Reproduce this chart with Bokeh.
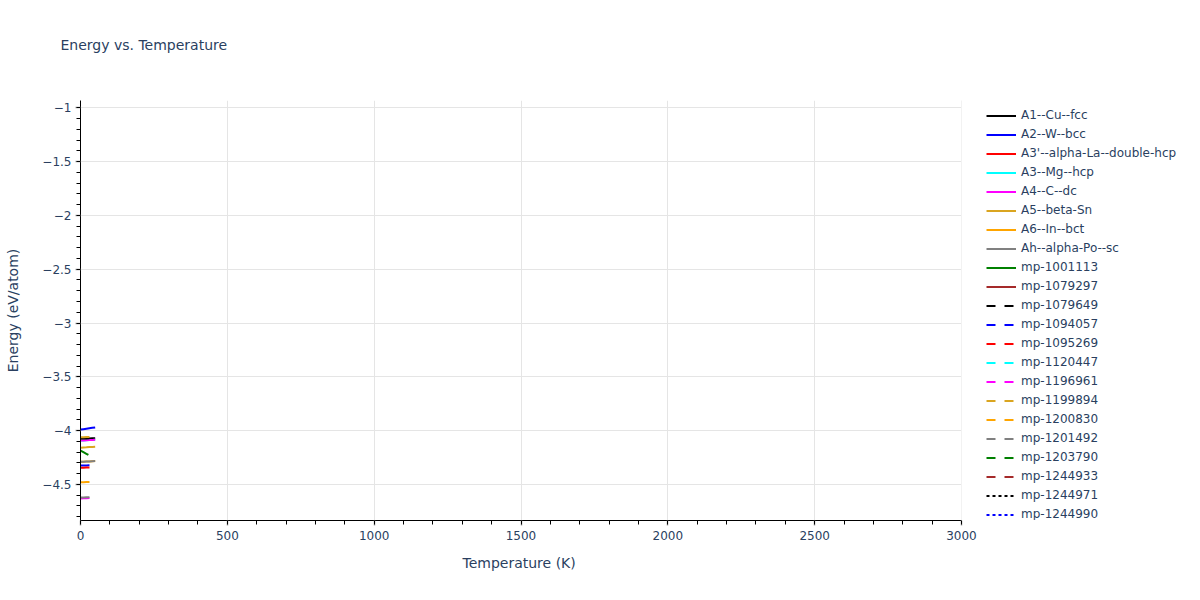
from bokeh.plotting import figure
from bokeh.models import (Legend, LegendItem, SingleIntervalTicker, BoxAnnotation,
                          CustomJSTickFormatter, Range1d, Title)
from bokeh.embed import file_html
from bokeh.resources import INLINE

FONT = "DejaVu Sans"
TEXT = "#2a3f5f"

# ---- data ----
temperature_k = [0, 10, 20, 30, 40, 50]
temperature_single = [0]

e_a1_cu_fcc = [-4.075, -4.074, -4.073, -4.072, -4.071, -4.070]
e_a2_w_bcc = [-3.990, -3.986, -3.982, -3.978, -3.974, -3.970]
e_a3p_la_dhcp = [-4.343]
e_a3_mg_hcp = [-4.092, -4.091, -4.089, -4.088, -4.086, -4.085]
e_a4_c_dc = [-4.092, -4.091, -4.089, -4.088, -4.086, -4.085]
e_a5_beta_sn = [-4.158, -4.156, -4.155, -4.153, -4.152, -4.150]
e_a6_in_bct = [-4.290, -4.289, -4.287, -4.286, -4.284, -4.283]
e_ah_po_sc = [-4.290, -4.289, -4.287, -4.286, -4.284, -4.283]
e_mp_1001113 = [-4.185]
e_mp_1079297 = [-4.073]
e_mp_1079649 = [-4.073, -4.072, -4.072, -4.071, -4.071, -4.070]
e_mp_1094057 = [-4.325, -4.324, -4.323, -4.322, -4.321, -4.320]
e_mp_1095269 = [-4.345, -4.344, -4.343, -4.342, -4.341, -4.340]
e_mp_1120447 = [-4.090]
e_mp_1196961 = [-4.630, -4.629, -4.628, -4.627, -4.626, -4.625]
e_mp_1199894 = [-4.062, -4.061, -4.059, -4.058, -4.056, -4.055]
e_mp_1200830 = [-4.480, -4.479, -4.478, -4.477, -4.476, -4.475]
e_mp_1201492 = [-4.622, -4.621, -4.620, -4.619, -4.618, -4.617]
e_mp_1203790 = [-4.185, -4.200, -4.215, -4.230, -4.245, -4.260]
e_mp_1244933 = [-4.620]
e_mp_1244971 = [-4.290]
e_mp_1244990 = [-4.325]

series_names = [
    "A1--Cu--fcc", "A2--W--bcc", "A3'--alpha-La--double-hcp", "A3--Mg--hcp",
    "A4--C--dc", "A5--beta-Sn", "A6--In--bct", "Ah--alpha-Po--sc",
    "mp-1001113", "mp-1079297", "mp-1079649", "mp-1094057", "mp-1095269",
    "mp-1120447", "mp-1196961", "mp-1199894", "mp-1200830", "mp-1201492",
    "mp-1203790", "mp-1244933", "mp-1244971", "mp-1244990",
]
series_values = [
    e_a1_cu_fcc, e_a2_w_bcc, e_a3p_la_dhcp, e_a3_mg_hcp, e_a4_c_dc,
    e_a5_beta_sn, e_a6_in_bct, e_ah_po_sc, e_mp_1001113, e_mp_1079297,
    e_mp_1079649, e_mp_1094057, e_mp_1095269, e_mp_1120447, e_mp_1196961,
    e_mp_1199894, e_mp_1200830, e_mp_1201492, e_mp_1203790, e_mp_1244933,
    e_mp_1244971, e_mp_1244990,
]
palette = ["black", "blue", "red", "cyan", "magenta", "goldenrod", "orange",
           "gray", "green", "brown"]
series_colors = palette + palette + ["black", "blue"]
series_dashes = ["solid"] * 10 + ["9 9"] * 10 + ["3 3"] * 2

x_axis_max = 3000
y_axis_min, y_axis_max = -4.835, -0.932

# ---- figure ----
# The plotting frame runs on to the right edge so the legend (which Bokeh
# clips to the frame when placed inside it) can sit right of the data area.
FRAME_W, DATA_W = 1104, 881
p = figure(frame_width=FRAME_W, frame_height=420, output_backend="svg",
           toolbar_location=None,
           x_range=Range1d(0, x_axis_max * FRAME_W / DATA_W),
           y_range=Range1d(y_axis_min, y_axis_max),
           min_border_left=80, min_border_right=0, min_border_top=100,
           min_border_bottom=72)
p.outline_line_color = None
p.background_fill_color = "white"

p.title.text = "Energy vs. Temperature"
p.title.align = "left"
p.title.vertical_align = "bottom"
p.title.offset = -20
p.title.standoff = 0
p.title.padding = dict(left=0, right=0, top=0, bottom=48)
p.title.text_font = FONT
p.title.text_font_size = "14px"
p.title.text_font_style = "normal"
p.title.text_color = TEXT

minus_fmt = "return String(tick).replace('-', '\u2212');"
p.xaxis.ticker = SingleIntervalTicker(interval=500, num_minor_ticks=5)
p.yaxis.ticker = SingleIntervalTicker(interval=0.5, num_minor_ticks=5)
p.xaxis.formatter = CustomJSTickFormatter(code=minus_fmt)
p.yaxis.formatter = CustomJSTickFormatter(code=minus_fmt)
p.xaxis.bounds = (0, x_axis_max)

for ax in (p.xaxis, p.yaxis):
    ax.axis_line_color = "black"
    ax.axis_line_width = 1
    ax.major_tick_in = 0
    ax.major_tick_out = 5
    ax.major_tick_line_color = "#a0a0a0"
    ax.major_tick_line_width = 1.5
    ax.minor_tick_in = 0
    ax.minor_tick_out = 4
    ax.minor_tick_line_color = "black"
    ax.major_label_text_font = FONT
    ax.major_label_text_font_size = "12px"
    ax.major_label_text_color = TEXT
    ax.axis_label_text_font = FONT
    ax.axis_label_text_font_size = "14px"
    ax.axis_label_text_font_style = "normal"
    ax.axis_label_text_color = TEXT

p.yaxis.axis_label = "Energy (eV/atom)"
p.xaxis.major_label_standoff = 5
p.yaxis.major_label_standoff = 4
p.yaxis.axis_label_standoff = 18

# x-axis title, centred under the data area (not under the whole frame)
x_title = Title(text="Temperature (K)", align="left", vertical_align="top",
                offset=382, standoff=25, text_font=FONT,
                text_font_size="14px", text_font_style="normal",
                text_color=TEXT)
p.add_layout(x_title, "below")

p.xgrid.grid_line_color = "#e5e5e5"
p.ygrid.grid_line_color = "#e5e5e5"
p.xgrid.grid_line_width = 1
p.ygrid.grid_line_width = 1

items = []
for name, vals, color, dash in zip(series_names, series_values,
                                   series_colors, series_dashes):
    xs = temperature_k[:len(vals)] if len(vals) > 1 else temperature_single
    r = p.line(xs, vals, line_color=color, line_width=2, line_dash=dash)
    items.append(LegendItem(label=name, renderers=[r]))

# blank out the grid beyond the data area (legend area)
p.add_layout(BoxAnnotation(left=x_axis_max, fill_color="white", fill_alpha=1,
                           line_alpha=0))

legend = Legend(items=items, location=(DATA_W + 25, -3.5),
                orientation="vertical",
                glyph_width=30, glyph_height=19, label_height=19, spacing=0,
                padding=0, margin=0, label_standoff=5,
                label_text_font=FONT, label_text_font_size="12px",
                label_text_color=TEXT, border_line_alpha=0,
                background_fill_alpha=0)
p.add_layout(legend, "center")

open("out.html", "w").write(file_html(p, INLINE))
